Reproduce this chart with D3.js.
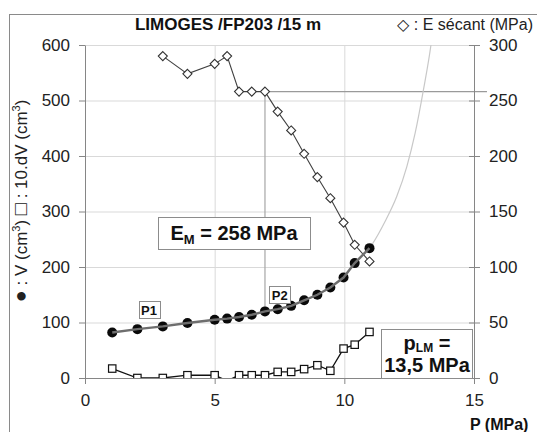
<!DOCTYPE html>
<html>
<head>
<meta charset="utf-8">
<script src="https://cdnjs.cloudflare.com/ajax/libs/d3/7.8.5/d3.min.js"></script>
<style>
	body { margin: 0; background: #fff; }
	svg { display: block; font-family: "Liberation Sans", Arial, sans-serif; }
	.grid line { stroke: #d9d9d9; stroke-width: 1; }
	.grid path { display: none; }
	.axis path, .axis line { stroke: #868686; }
	.axis text { fill: #222; font-size: 17px; font-family: "Liberation Sans", Arial, sans-serif; }
	.lbl-box { fill: #fff; stroke: #8c8c8c; stroke-width: 1; }
	.lbl { font-weight: bold; fill: #111; }
</style>
</head>
<body>
<div class="chart"><svg width="537" height="432"></svg></div>
<script>
(function() {

	//DATA
	var pressure = [1.05, 2.02, 3.0, 3.95, 5.0, 5.48, 5.94, 6.43, 6.94, 7.43, 7.95, 8.45, 8.96, 9.46, 9.97, 10.4, 10.97];
	var volume = [82, 88, 93, 99, 105, 107, 110, 114, 120, 124, 130, 140, 150, 163, 181, 207, 234];
	var dVolume10 = [17, 0, 0, 5, 5, -5, 5, 5, 5, 11, 11, 16, 23, 13, 53, 60, 83];
	// E secant starts at the 3rd pressure step
	var eSecantStart = 2;
	var eSecant = [290, 274, 283, 290, 258, 258, 258, 240, 223, 202, 181, 162, 140, 120, 105];
	// light grey extension of the volume curve towards p_LM
	var fitPressure = [10.97, 11.06, 11.57, 12.02, 12.41, 12.73, 13.05, 13.34, 13.45];
	var fitVolume = [234, 240, 282, 327, 381, 441, 519, 600, 640];

	var xTicks = [0, 5, 10, 15];
	var leftTicks = [0, 100, 200, 300, 400, 500, 600];
	var rightTicks = [0, 50, 100, 150, 200, 250, 300];

	var emIndex = 8;        // P2 point where E_M is read
	var emValue = 258;
	var p1Label = { p: 2.47, v: 122, text: 'P1' };
	var p2Label = { p: 7.51, v: 150, text: 'P2' };

	//VARS
	var margin = { top: 45, bottom: 54, left: 85, right: 63 };
	var svgW = 537, svgH = 432;
	var width = svgW - margin.left - margin.right;
	var height = svgH - margin.top - margin.bottom;
	var scales = {};
	var svg = d3.select('.chart svg');

	function setupScales() {
		scales.x = d3.scaleLinear().domain([0, 15]).range([margin.left, margin.left + width]);
		scales.yLeft = d3.scaleLinear().domain([0, 600]).range([margin.top + height, margin.top]);
		scales.yRight = d3.scaleLinear().domain([0, 300]).range([margin.top + height, margin.top]);
	}

	function drawFrame() {
		svg.append('rect')
			.attr('x', 9.5).attr('y', 14.5)
			.attr('width', 700).attr('height', 700)
			.attr('fill', '#fff')
			.attr('stroke', '#8a8a8a');

		svg.append('defs').append('clipPath').attr('id', 'plot-clip')
			.append('rect')
			.attr('x', margin.left).attr('y', margin.top)
			.attr('width', width).attr('height', height);
	}

	function drawGrid() {
		svg.append('g')
			.attr('class', 'grid')
			.attr('transform', 'translate(' + margin.left + ',0)')
			.call(d3.axisLeft(scales.yLeft).tickValues(leftTicks.slice(1)).tickSize(-width).tickFormat(''));

		svg.append('g')
			.attr('class', 'grid')
			.attr('transform', 'translate(0,' + (margin.top + height) + ')')
			.call(d3.axisBottom(scales.x).tickValues([5, 10]).tickSize(-height).tickFormat(''));
	}

	function drawAxes() {
		svg.append('g')
			.attr('class', 'axis axis--left')
			.attr('transform', 'translate(' + margin.left + ',0)')
			.call(d3.axisLeft(scales.yLeft).tickValues(leftTicks).tickSize(6).tickSizeOuter(0).tickPadding(9));

		var axR = svg.append('g')
			.attr('class', 'axis axis--right')
			.attr('transform', 'translate(' + (margin.left + width) + ',0)')
			.call(d3.axisRight(scales.yRight).tickValues(rightTicks).tickSize(6).tickSizeOuter(0).tickPadding(9));
		axR.selectAll('.tick line').attr('x1', -5);

		svg.append('g')
			.attr('class', 'axis axis--x')
			.attr('transform', 'translate(0,' + (margin.top + height) + ')')
			.call(d3.axisBottom(scales.x).tickValues(xTicks).tickSize(6).tickSizeOuter(0).tickPadding(10));

		svg.selectAll('.axis .tick text').attr('font-size', 17);
	}

	function drawAnnotationLines() {
		var pEm = pressure[emIndex];
		svg.append('line')
			.attr('x1', scales.x(pEm)).attr('x2', scales.x(pEm))
			.attr('y1', scales.yLeft(volume[emIndex])).attr('y2', scales.yRight(emValue))
			.attr('stroke', '#a6a6a6').attr('stroke-width', 1.2);

		svg.append('line')
			.attr('x1', scales.x(pEm)).attr('x2', scales.x(15.5))
			.attr('y1', scales.yRight(emValue)).attr('y2', scales.yRight(emValue))
			.attr('stroke', '#9a9a9a').attr('stroke-width', 1.2);
	}

	function drawSeries() {
		var plot = svg.append('g').attr('clip-path', 'url(#plot-clip)');

		// fitted curve extension
		var fitLine = d3.line()
			.x(function(d, i) { return scales.x(fitPressure[i]); })
			.y(function(d) { return scales.yLeft(d); })
			.curve(d3.curveMonotoneX);
		plot.append('path')
			.attr('d', fitLine(fitVolume))
			.attr('fill', 'none').attr('stroke', '#c8c8c8').attr('stroke-width', 1.2);

		// 10.dV squares
		var dvLine = d3.line()
			.x(function(d, i) { return scales.x(pressure[i]); })
			.y(function(d) { return scales.yLeft(d); });
		plot.append('path')
			.attr('d', dvLine(dVolume10))
			.attr('fill', 'none').attr('stroke', '#111').attr('stroke-width', 1.3);
		plot.selectAll('.sq')
			.data(dVolume10.map(function(v, i) { return { p: pressure[i], v: v }; }).filter(function(d) { return d.v >= 0; }))
			.enter().append('rect')
			.attr('class', 'sq')
			.attr('x', function(d) { return scales.x(d.p) - 3.7; })
			.attr('y', function(d) { return scales.yLeft(d.v) - 3.7; })
			.attr('width', 7.4).attr('height', 7.4)
			.attr('fill', '#fff').attr('stroke', '#111').attr('stroke-width', 1.2);

		// E secant diamonds
		var eData = eSecant.map(function(v, i) { return { p: pressure[i + eSecantStart], v: v }; });
		var eLine = d3.line()
			.x(function(d) { return scales.x(d.p); })
			.y(function(d) { return scales.yRight(d.v); });
		plot.append('path')
			.attr('d', eLine(eData))
			.attr('fill', 'none').attr('stroke', '#404040').attr('stroke-width', 1.1);
		var diamond = d3.symbol().type(d3.symbolDiamond2).size(52);
		plot.selectAll('.dia')
			.data(eData)
			.enter().append('path')
			.attr('class', 'dia')
			.attr('d', diamond)
			.attr('transform', function(d) { return 'translate(' + scales.x(d.p) + ',' + scales.yRight(d.v) + ')'; })
			.attr('fill', '#fff').attr('stroke', '#333').attr('stroke-width', 1.1);

		// volume circles + grey line on top
		var vData = volume.map(function(v, i) { return { p: pressure[i], v: v }; });
		plot.selectAll('.dot')
			.data(vData)
			.enter().append('circle')
			.attr('class', 'dot')
			.attr('cx', function(d) { return scales.x(d.p); })
			.attr('cy', function(d) { return scales.yLeft(d.v); })
			.attr('r', 5)
			.attr('fill', '#0a0a0a');
		var vLine = d3.line()
			.x(function(d) { return scales.x(d.p); })
			.y(function(d) { return scales.yLeft(d.v); });
		plot.append('path')
			.attr('d', vLine(vData))
			.attr('fill', 'none').attr('stroke', '#6e6e6e').attr('stroke-width', 2.4);
	}

	function labelBox(x, y, w, h) {
		svg.append('rect').attr('class', 'lbl-box')
			.attr('x', x + 0.5).attr('y', y + 0.5).attr('width', w).attr('height', h);
	}

	function drawLabels() {
		// title + legend
		svg.append('text').attr('class', 'lbl')
			.attr('x', 228).attr('y', 30).attr('text-anchor', 'middle')
			.attr('font-size', 17)
			.text('LIMOGES /FP203 /15 m');
		svg.append('text')
			.attr('x', 533).attr('y', 30).attr('text-anchor', 'end')
			.attr('font-size', 16).attr('fill', '#222')
			.text('\u25C7 : E s\u00E9cant (MPa)');

		// y axis title
		var yt = svg.append('text')
			.attr('transform', 'translate(27,' + 201 + ') rotate(-90)')
			.attr('text-anchor', 'middle')
			.attr('font-size', 17).attr('fill', '#222');
		yt.append('tspan').attr('font-size', 20).text('\u25CF');
		yt.append('tspan').text(' : V (cm');
		yt.append('tspan').attr('font-size', 11).attr('dy', -7).text('3');
		yt.append('tspan').attr('dy', 7).text(')  ');
		yt.append('tspan').attr('font-size', 20).text('\u25A1');
		yt.append('tspan').text(' : 10.dV (cm');
		yt.append('tspan').attr('font-size', 11).attr('dy', -7).text('3');
		yt.append('tspan').attr('dy', 7).text(')');

		// x axis title
		svg.append('text').attr('class', 'lbl')
			.attr('x', 470).attr('y', 430)
			.attr('font-size', 16)
			.text('P (MPa)');

		// P1 / P2
		[p1Label, p2Label].forEach(function(l) {
			var cx = scales.x(l.p), cy = scales.yLeft(l.v);
			labelBox(Math.round(cx - 10.5), Math.round(cy - 9), 21, 17);
			svg.append('text').attr('class', 'lbl')
				.attr('x', cx).attr('y', cy + 5).attr('text-anchor', 'middle')
				.attr('font-size', 13)
				.text(l.text);
		});

		// E_M box
		labelBox(158, 217, 152, 32);
		var em = svg.append('text').attr('class', 'lbl')
			.attr('x', 234).attr('y', 240).attr('text-anchor', 'middle')
			.attr('font-size', 20);
		em.append('tspan').text('E');
		em.append('tspan').attr('font-size', 13).attr('dy', 4).text('M');
		em.append('tspan').attr('dy', -4).text(' = ' + emValue + ' MPa');

		// p_LM box
		labelBox(381, 329, 91, 49);
		var pl = svg.append('text').attr('class', 'lbl')
			.attr('x', 427).attr('y', 350).attr('text-anchor', 'middle')
			.attr('font-size', 20);
		pl.append('tspan').text('p');
		pl.append('tspan').attr('font-size', 12).attr('dy', 2).text('LM');
		pl.append('tspan').attr('dy', -2).text(' =');
		svg.append('text').attr('class', 'lbl')
			.attr('x', 427).attr('y', 372).attr('text-anchor', 'middle')
			.attr('font-size', 20)
			.text('13,5 MPa');
	}

	function init() {
		setupScales();
		drawFrame();
		drawGrid();
		drawAnnotationLines();
		drawSeries();
		drawAxes();
		drawLabels();
	}

	init();
})();
</script>
</body>
</html>
